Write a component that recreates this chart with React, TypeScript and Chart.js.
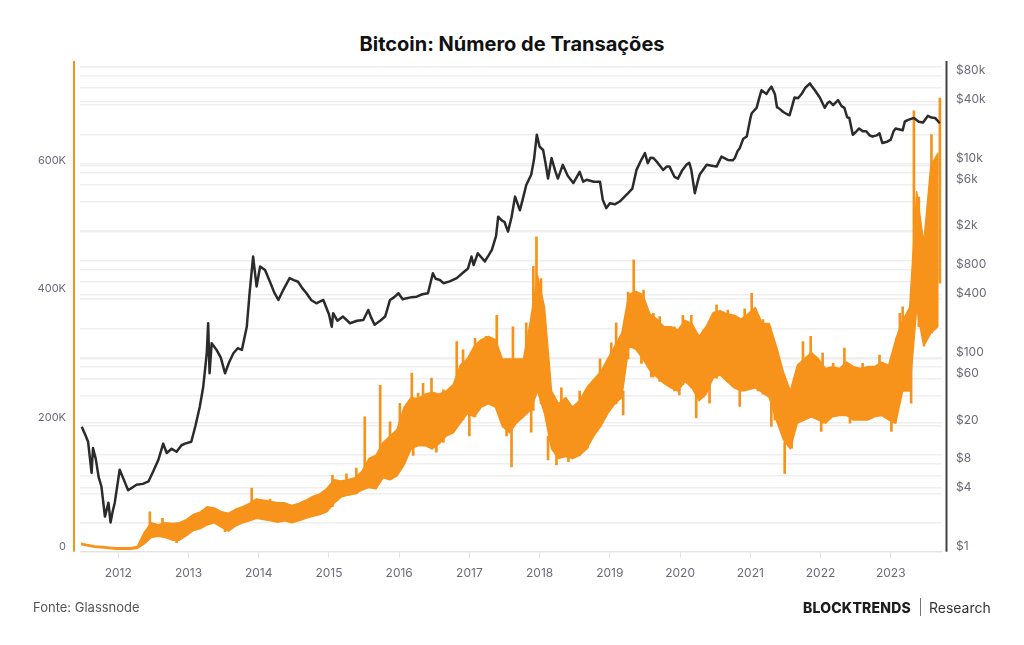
import React, { useEffect, useRef } from 'react';
import { Chart, registerables } from 'chart.js';

Chart.register(...registerables);

// ---------- data ----------
const X_MIN = 2011.455;
const X_MAX = 2023.73;

const yearTicks = [2012, 2013, 2014, 2015, 2016, 2017, 2018, 2019, 2020, 2021, 2022, 2023];

// Daily transactions: typical upper / lower edge of the noisy daily band, every 0.1 year
const txStartYear = 2011.47;
const txStep = 0.1;
const txHigh = [
  13000, 11000, 9000, 8000, 7000, 6000, 6000, 6000, 8000,
  30000, 45000, 42000, 45000, 44000, 45000, 50000,
  58000, 62000, 70000, 68000, 62000, 60000, 66000, 70000, 75000,
  82000, 80000, 78000, 76000, 76000, 72000, 75000, 80000, 86000, 90000, 98000,
  112000, 110000, 112000, 115000, 125000, 145000, 150000, 170000, 180000, 190000,
  225000, 240000, 238000, 245000, 248000, 245000, 250000, 260000, 290000, 300000,
  320000, 330000, 335000, 330000, 300000, 300000, 300000, 300000, 360000, 430000,
  380000, 250000, 230000, 240000, 225000, 235000, 255000, 268000, 280000, 300000,
  320000, 340000, 400000, 405000, 400000, 370000, 362000, 350000, 350000, 345000,
  360000, 355000, 335000, 350000, 372000, 375000, 370000, 368000, 362000, 370000,
  380000, 355000, 355000, 320000, 280000, 250000, 290000, 300000, 310000, 300000,
  285000, 288000, 285000, 295000, 288000, 285000, 288000, 288000, 295000, 290000,
  330000, 360000, 380000, 560000, 480000, 600000, 620000,
];
const txLow = [
  11000, 9000, 7000, 6000, 5000, 4000, 4000, 4000, 5000,
  12000, 22000, 24000, 22000, 18000, 18000, 25000,
  33000, 36000, 42000, 45000, 38000, 32000, 40000, 45000, 48000,
  52000, 50000, 48000, 46000, 48000, 45000, 48000, 52000, 55000, 58000, 62000,
  75000, 85000, 88000, 90000, 96000, 100000, 98000, 115000, 112000, 118000,
  135000, 160000, 165000, 165000, 160000, 168000, 180000, 185000, 200000, 215000,
  210000, 225000, 230000, 225000, 195000, 185000, 200000, 210000, 220000, 250000,
  215000, 160000, 145000, 148000, 145000, 150000, 160000, 180000, 195000, 215000,
  230000, 240000, 320000, 315000, 300000, 282000, 272000, 262000, 255000, 250000,
  265000, 255000, 235000, 245000, 270000, 275000, 265000, 255000, 250000, 252000,
  255000, 248000, 240000, 205000, 175000, 160000, 200000, 205000, 210000, 205000,
  200000, 210000, 212000, 212000, 205000, 205000, 205000, 210000, 212000, 205000,
  200000, 250000, 250000, 380000, 320000, 340000, 350000,
];

// Isolated daily outliers (spikes up and dips down): year, from, to
const txSpikeYears = [
  2012.45, 2012.63, 2013.9, 2014.16, 2015.05, 2015.25, 2015.39, 2015.51, 2015.73, 2015.87,
  2016.01, 2016.18, 2016.27, 2016.34, 2016.46, 2016.63, 2016.82, 2016.91, 2017.08, 2017.24,
  2017.39, 2017.62, 2017.81, 2017.91, 2017.955, 2018.02, 2018.31, 2018.57, 2018.86, 2019.02,
  2019.09, 2019.26, 2019.34, 2019.48, 2019.62, 2019.71, 2019.92, 2020.04, 2020.16, 2020.33,
  2020.52, 2020.68, 2020.92, 2021.02, 2021.11, 2021.18, 2021.28, 2021.35, 2021.75, 2021.86,
  2022.03, 2022.18, 2022.34, 2022.46, 2022.6, 2022.84, 2023.06, 2023.13, 2023.17, 2023.33,
  2023.4, 2023.58, 2023.7,
  2012.83, 2013.52, 2016.01, 2016.2, 2016.53, 2017.0, 2017.53, 2017.6, 2017.88, 2018.12,
  2018.24, 2018.41, 2018.68, 2019.19, 2019.45, 2019.59, 2019.99, 2020.23, 2020.42, 2020.85,
  2021.3, 2021.49, 2021.59, 2022.01, 2022.42, 2023.01, 2023.29,
];
const txSpikeFrom = [
  25000, 25000, 50000, 50000, 70000, 88000, 90000, 100000, 110000, 112000,
  130000, 160000, 165000, 165000, 160000, 170000, 200000, 205000, 210000, 230000,
  230000, 200000, 215000, 220000, 250000, 230000, 150000, 150000, 195000, 225000,
  230000, 300000, 320000, 300000, 272000, 265000, 250000, 260000, 255000, 240000,
  270000, 265000, 250000, 255000, 250000, 245000, 240000, 205000, 205000, 210000,
  200000, 210000, 212000, 205000, 205000, 212000, 200000, 250000, 250000, 380000,
  350000, 340000, 418000,
  14000, 31000, 127000, 150000, 155000, 180000, 180000, 132000, 186000, 143000,
  135000, 140000, 161000, 213000, 293000, 272000, 244000, 208000, 231000, 226000,
  195000, 122000, 161000, 187000, 200000, 187000, 231000,
];
const txSpikeTo = [
  62000, 52000, 99000, 82000, 119000, 121000, 130000, 210000, 259000, 202000,
  231000, 278000, 247000, 262000, 270000, 252000, 327000, 314000, 332000, 335000,
  368000, 350000, 356000, 444000, 490000, 425000, 255000, 250000, 300000, 325000,
  356000, 404000, 454000, 407000, 371000, 366000, 350000, 368000, 368000, 345000,
  384000, 376000, 378000, 402000, 368000, 361000, 350000, 311000, 327000, 335000,
  309000, 293000, 317000, 288000, 293000, 306000, 319000, 371000, 381000, 686000,
  552000, 649000, 706000,
  30000, 45000, 180000, 200000, 200000, 220000, 230000, 200000, 230000, 180000,
  160000, 160000, 180000, 250000, 320000, 300000, 260000, 260000, 260000, 255000,
  240000, 170000, 200000, 210000, 215000, 210000, 300000,
];

// BTC price (USD, log axis)
const priceYears = [
  2011.48, 2011.53, 2011.57, 2011.62, 2011.64, 2011.68, 2011.72, 2011.76, 2011.81, 2011.86,
  2011.89, 2011.92, 2011.95, 2012.02, 2012.08, 2012.14, 2012.26, 2012.35, 2012.43, 2012.5,
  2012.57, 2012.64, 2012.69, 2012.76, 2012.83, 2012.9, 2012.95, 2013.04, 2013.1, 2013.16,
  2013.21, 2013.26, 2013.28, 2013.3, 2013.33, 2013.4, 2013.46, 2013.52, 2013.58, 2013.64,
  2013.7, 2013.76, 2013.83, 2013.87, 2013.92, 2013.97, 2014.02, 2014.09, 2014.16, 2014.22,
  2014.28, 2014.35, 2014.44, 2014.5, 2014.56, 2014.62, 2014.68, 2014.75, 2014.82, 2014.92,
  2015.0, 2015.04, 2015.06, 2015.12, 2015.2, 2015.3, 2015.4, 2015.49, 2015.56, 2015.6,
  2015.65, 2015.73, 2015.8, 2015.87, 2015.93, 2015.99, 2016.05, 2016.11, 2016.18, 2016.25,
  2016.33, 2016.41, 2016.48, 2016.52, 2016.58, 2016.63, 2016.72, 2016.82, 2016.9, 2016.98,
  2017.03, 2017.06, 2017.12, 2017.22, 2017.28, 2017.32, 2017.38, 2017.41, 2017.46, 2017.5,
  2017.55, 2017.6, 2017.65, 2017.72, 2017.76, 2017.81, 2017.88, 2017.92, 2017.96, 2018.0,
  2018.05, 2018.08, 2018.12, 2018.17, 2018.22, 2018.26, 2018.33, 2018.4, 2018.48, 2018.57,
  2018.62, 2018.67, 2018.77, 2018.86, 2018.9, 2018.95, 2019.0, 2019.07, 2019.14, 2019.26,
  2019.32, 2019.38, 2019.45, 2019.5, 2019.54, 2019.58, 2019.62, 2019.68, 2019.76, 2019.81,
  2019.85, 2019.92, 2019.97, 2020.03, 2020.09, 2020.13, 2020.16, 2020.21, 2020.25, 2020.28,
  2020.38, 2020.45, 2020.52, 2020.59, 2020.68, 2020.75, 2020.78, 2020.82, 2020.85, 2020.9,
  2020.95, 2021.0, 2021.02, 2021.09, 2021.13, 2021.16, 2021.23, 2021.27, 2021.3, 2021.35,
  2021.38, 2021.4, 2021.47, 2021.53, 2021.56, 2021.6, 2021.63, 2021.68, 2021.73, 2021.78,
  2021.85, 2021.88, 2021.92, 2021.99, 2022.06, 2022.1, 2022.13, 2022.18, 2022.25, 2022.3,
  2022.34, 2022.38, 2022.41, 2022.46, 2022.5, 2022.55, 2022.6, 2022.65, 2022.7, 2022.74,
  2022.8, 2022.84, 2022.88, 2022.95, 2023.0, 2023.04, 2023.07, 2023.17, 2023.2, 2023.24,
  2023.3, 2023.33, 2023.4, 2023.46, 2023.53, 2023.58, 2023.63, 2023.7,
];
const priceValues = [
  19.4, 16, 13.6, 6.5, 11.7, 9, 5.9, 4.7, 2.3, 3.2,
  2.0, 2.6, 3.2, 7.0, 5.5, 4.3, 4.9, 5.0, 5.3, 6.8,
  8.8, 13, 10.4, 11.5, 10.7, 12.5, 13, 13.6, 20, 31,
  50, 111, 226, 69, 141, 120, 100, 69, 90, 111,
  125, 120, 208, 461, 1100, 540, 870, 800, 605, 470,
  393, 500, 660, 630, 605, 520, 461, 390, 363, 393,
  280, 208, 287, 240, 265, 226, 240, 244, 310, 260,
  218, 240, 265, 393, 420, 461, 400, 410, 420, 425,
  450, 461, 740, 650, 630, 585, 610, 660, 740, 830,
  1100, 900, 1190, 980, 1150, 1290, 1800, 2830, 2600, 2500,
  1990, 2800, 4560, 3300, 4300, 6000, 7650, 11000, 19800, 14900,
  13800, 10500, 7000, 11400, 8500, 7000, 9700, 7500, 6300, 8200,
  6500, 6800, 6500, 6500, 4200, 3470, 3900, 3800, 4060, 4950,
  5500, 8600, 11000, 12800, 10100, 11500, 11400, 10200, 8600, 9300,
  9300, 7300, 7000, 8500, 9700, 10200, 8600, 4950, 6500, 7700,
  9700, 9500, 9300, 11800, 10900, 10800, 11400, 13500, 14400, 18000,
  19000, 29000, 33000, 37500, 48000, 57000, 52000, 58000, 62000, 52000,
  38000, 37500, 34000, 32000, 31500, 40000, 48000, 47000, 52000, 60000,
  67000, 62000, 57000, 48000, 37500, 42000, 43500, 40000, 45000, 39000,
  37500, 30000, 29500, 19800, 21000, 23000, 21500, 21500, 19500, 19000,
  19500, 20500, 16300, 16800, 17600, 21500, 23000, 22000, 27000, 28000,
  29000, 29500, 27000, 26500, 31000, 29800, 29500, 26000,
];

// Axis ticks
const leftTicks = [0, 100000, 200000, 300000, 400000, 500000, 600000, 700000];
const leftLabels: Record<number, string> = { 0: '0', 200000: '200K', 400000: '400K', 600000: '600K' };
const LEFT_MAX = 755000;

const rightTicks = [
  1, 2, 4, 6, 8, 10, 20, 40, 60, 80, 100, 200, 400, 600, 800,
  1000, 2000, 4000, 6000, 8000, 10000, 20000, 40000, 60000, 80000, 100000,
];
const rightLabels: Record<number, string> = {
  1: '$1', 4: '$4', 8: '$8', 20: '$20', 60: '$60', 100: '$100', 400: '$400', 800: '$800',
  2000: '$2k', 6000: '$6k', 10000: '$10k', 40000: '$40k', 80000: '$80k',
};

// ---------- styles ----------
const ORANGE = '#F7931A';
const DARK = '#2b2b2b';
const GRID = '#efefef';
const TICK_COLOR = '#6b6b78';
const FONT = 'Inter, "Open Sans", sans-serif';
const BAND_INDEX = 1;

const axisLinesPlugin = {
  id: 'axisLines',
  afterDraw(chart: any) {
    const { ctx, chartArea } = chart;
    ctx.save();
    ctx.lineWidth = 2;
    ctx.strokeStyle = ORANGE;
    ctx.beginPath();
    ctx.moveTo(chartArea.left - 6, chartArea.top - 5.5);
    ctx.lineTo(chartArea.left - 6, chartArea.bottom);
    ctx.stroke();
    ctx.strokeStyle = '#444444';
    ctx.beginPath();
    ctx.moveTo(chartArea.right + 4.5, chartArea.top - 5.5);
    ctx.lineTo(chartArea.right + 4.5, chartArea.bottom);
    ctx.stroke();
    ctx.restore();
  },
};

// Fills the closed outline of the band dataset (using the points Chart.js placed on its scales)
const bandFillPlugin = {
  id: 'bandFill',
  beforeDatasetDraw(chart: any, args: any) {
    if (args.index !== BAND_INDEX) return;
    const pts = args.meta.data;
    if (!pts || !pts.length) return;
    const { ctx, chartArea } = chart;
    ctx.save();
    ctx.beginPath();
    ctx.rect(chartArea.left, chartArea.top, chartArea.right - chartArea.left, chartArea.bottom - chartArea.top);
    ctx.clip();
    ctx.beginPath();
    ctx.moveTo(pts[0].x, pts[0].y);
    for (let i = 1; i < pts.length; i++) ctx.lineTo(pts[i].x, pts[i].y);
    ctx.closePath();
    ctx.fillStyle = ORANGE;
    ctx.fill();
    ctx.restore();
  },
};

export default function App() {
  const canvasRef = useRef<HTMLCanvasElement | null>(null);

  useEffect(() => {
    document.body.style.margin = '0';
    const canvas = canvasRef.current;
    if (!canvas) return;

    // Closed band outline: upper edge forward, lower edge backward
    const bandData: { x: number; y: number }[] = [];
    txHigh.forEach((y, i) => bandData.push({ x: txStartYear + i * txStep, y }));
    for (let i = txLow.length - 1; i >= 0; i--) {
      bandData.push({ x: txStartYear + i * txStep, y: txLow[i] });
    }
    const spikeData = txSpikeYears.map((x, i) => ({ x, y: [txSpikeFrom[i], txSpikeTo[i]] }));
    const priceData = priceYears.map((x, i) => ({ x, y: priceValues[i] }));

    const chart = new Chart(canvas, {
      type: 'line',
      data: {
        datasets: [
          {
            label: 'Preço',
            data: priceData,
            yAxisID: 'y1',
            borderColor: DARK,
            borderWidth: 2.5,
            pointRadius: 0,
            tension: 0,
            borderJoinStyle: 'round',
            fill: false,
          },
          {
            label: 'Transações',
            data: bandData,
            yAxisID: 'y',
            borderColor: ORANGE,
            borderWidth: 1.5,
            pointRadius: 0,
            tension: 0,
            borderJoinStyle: 'round',
            fill: false,
          },
          {
            type: 'bar',
            label: 'Transações (picos)',
            data: spikeData,
            yAxisID: 'y',
            backgroundColor: ORANGE,
            borderWidth: 0,
            barThickness: 2,
            grouped: false,
          } as any,
        ],
      },
      options: {
        responsive: false,
        maintainAspectRatio: false,
        animation: false,
        devicePixelRatio: 1,
        layout: { padding: { top: 66.5, left: 0, right: 0, bottom: 0 } },
        plugins: {
          legend: { display: false },
          tooltip: { enabled: false },
          title: { display: false },
        },
        scales: {
          x: {
            type: 'linear',
            min: X_MIN,
            max: X_MAX,
            offset: false,
            afterBuildTicks: (scale: any) => {
              scale.ticks = yearTicks.map((v) => ({ value: v }));
            },
            afterFit: (scale: any) => {
              scale.height = 93.3;
            },
            grid: {
              display: true,
              drawOnChartArea: false,
              drawTicks: true,
              tickLength: 6,
              color: '#e3e3e3',
              offset: false,
            },
            border: { display: true, color: '#e3e3e3', width: 1 },
            ticks: {
              autoSkip: false,
              maxRotation: 0,
              padding: 8,
              color: TICK_COLOR,
              font: { family: FONT, size: 12 },
              callback: (v: any) => String(v),
            },
          },
          y: {
            type: 'linear',
            position: 'left',
            min: 0,
            max: LEFT_MAX,
            afterBuildTicks: (scale: any) => {
              scale.ticks = leftTicks.map((v) => ({ value: v }));
            },
            afterFit: (scale: any) => {
              scale.width = 80;
            },
            grid: { color: GRID, lineWidth: 1.5, drawTicks: false },
            border: { display: false },
            ticks: {
              autoSkip: false,
              padding: 14,
              labelOffset: -5.5,
              color: TICK_COLOR,
              font: { family: FONT, size: 11 },
              callback: (v: any) => leftLabels[v] ?? '',
            },
          },
          y1: {
            type: 'logarithmic',
            position: 'right',
            min: 1,
            max: 100000,
            afterBuildTicks: (scale: any) => {
              scale.ticks = rightTicks.map((v) => ({ value: v }));
            },
            afterFit: (scale: any) => {
              scale.width = 82;
            },
            grid: { color: GRID, lineWidth: 1.5, drawTicks: false },
            border: { display: false },
            ticks: {
              autoSkip: false,
              padding: 14,
              labelOffset: -5.5,
              color: TICK_COLOR,
              font: { family: FONT, size: 12 },
              callback: (v: any) => rightLabels[v] ?? '',
            },
          },
        },
      } as any,
      plugins: [axisLinesPlugin, bandFillPlugin],
    });

    return () => chart.destroy();
  }, []);

  return (
    <div
      style={{
        position: 'absolute',
        left: 0,
        top: 0,
        width: 1024,
        height: 645,
        background: '#ffffff',
        fontFamily: FONT,
        overflow: 'hidden',
      }}
    >
      <div
        style={{
          position: 'absolute',
          left: 0,
          top: 30,
          width: 1024,
          textAlign: 'center',
          fontSize: 20,
          fontWeight: 700,
          lineHeight: '28px',
          color: '#111111',
        }}
      >
        Bitcoin: Número de Transações
      </div>
      <canvas
        ref={canvasRef}
        width={1024}
        height={645}
        style={{ position: 'absolute', left: 0, top: 0, width: 1024, height: 645 }}
      />
      <div
        style={{
          position: 'absolute',
          left: 33,
          top: 598,
          fontSize: 13,
          lineHeight: '18px',
          color: '#555555',
        }}
      >
        Fonte: Glassnode
      </div>
      <div
        style={{
          position: 'absolute',
          left: 803,
          top: 597,
          height: 20,
          display: 'flex',
          alignItems: 'center',
          color: '#1d1d1d',
        }}
      >
        <span style={{ fontSize: 14, fontWeight: 800, letterSpacing: 0.2 }}>BLOCKTRENDS</span>
        <span
          style={{
            display: 'inline-block',
            width: 1,
            height: 18,
            background: '#777777',
            margin: '0 8px 0 9px',
          }}
        />
        <span style={{ fontSize: 14, fontWeight: 400, color: '#333333' }}>Research</span>
      </div>
    </div>
  );
}
